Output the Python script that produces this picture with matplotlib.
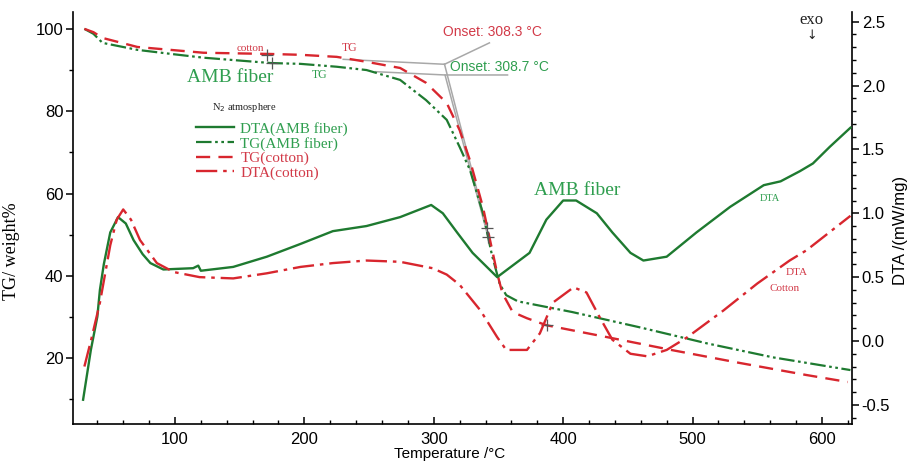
import matplotlib
matplotlib.use('Agg')
import matplotlib.pyplot as plt
from matplotlib.ticker import MultipleLocator, FormatStrFormatter

# ---------------- data ----------------
tg_amb_T = [30, 37, 44, 71, 100, 122, 174, 197, 225, 248, 274, 294, 310, 320, 328,
            338, 345, 351, 356, 365, 407, 459, 511, 562, 622]
tg_amb_v = [100, 98.8, 96.6, 94.9, 93.8, 93.0, 91.7, 91.5, 90.8, 90.0, 87.6, 82.7,
            77.9, 71.3, 65.7, 55.2, 45.0, 38.0, 35.3, 33.8, 31.2, 27.5, 23.6, 20.2, 17.1]

tg_cot_T = [30, 37, 44, 71, 122, 174, 197, 225, 248, 274, 294, 310, 320, 328, 338,
            349, 353, 361, 372, 387, 434, 485, 537, 588, 620]
tg_cot_v = [100, 99.2, 97.8, 95.6, 94.2, 93.9, 93.7, 93.2, 92.0, 90.5, 86.9, 82.0,
            75.4, 68.0, 56.7, 40.6, 35.8, 31.2, 29.7, 28.0, 25.1, 21.9, 18.8, 15.9, 14.2]

dta_amb_T = [29, 35, 40, 42, 45, 50, 56, 62, 68, 75, 81, 91, 114, 118, 120, 145, 171,
             197, 222, 248, 274, 298, 307, 318, 330, 343, 349, 374, 387, 400, 410, 426,
             438, 452, 462, 480, 503, 529, 555, 568, 583, 593, 606, 622]
dta_amb_d = [-0.46, -0.07, 0.19, 0.40, 0.60, 0.85, 0.97, 0.92, 0.79, 0.68, 0.61, 0.56,
             0.57, 0.59, 0.55, 0.58, 0.66, 0.76, 0.86, 0.90, 0.97, 1.065, 1.0, 0.85,
             0.69, 0.56, 0.50, 0.69, 0.95, 1.10, 1.10, 1.0, 0.85, 0.69, 0.63, 0.66,
             0.85, 1.05, 1.22, 1.25, 1.33, 1.39, 1.52, 1.67]

dta_cot_T = [30, 35, 42, 50, 55, 60, 66, 73, 86, 99, 119, 145, 171, 197, 222, 248, 274,
             299, 310, 320, 336, 349, 356, 372, 382, 392, 408, 418, 428, 438, 452, 465,
             480, 496, 524, 550, 575, 588, 622]
dta_cot_d = [-0.20, 0.0, 0.30, 0.75, 0.95, 1.03, 0.95, 0.79, 0.61, 0.54, 0.50, 0.49,
             0.53, 0.58, 0.61, 0.63, 0.62, 0.57, 0.52, 0.44, 0.24, 0.03, -0.07, -0.07,
             0.06, 0.30, 0.42, 0.38, 0.19, 0.01, -0.10, -0.12, -0.07, 0.03, 0.24, 0.45,
             0.63, 0.71, 0.98]

# onset construction lines (temperature, weight %)
onset_red_base_T = [230, 308.3]
onset_red_base_v = [92.6, 91.4]
onset_red_lead_T = [308.3, 343]
onset_red_lead_v = [91.4, 96.6]
onset_red_steep_T = [308.3, 341]
onset_red_steep_v = [91.4, 51.6]
onset_grn_base_T = [255, 308.7, 357]
onset_grn_base_v = [89.6, 88.8, 88.8]
onset_grn_steep_T = [308.7, 342]
onset_grn_steep_v = [88.8, 49.4]
cross_T = [171, 175, 387.5, 341, 342]
cross_v = [93.6, 91.7, 28.0, 51.6, 49.4]

legend_labels = ['DTA(AMB fiber)', 'TG(AMB fiber)', 'TG(cotton)', 'DTA(cotton)']

x_lim = (21.2, 623.2)
yl_lim = (4.0, 104.1)
yr_lim = (-0.65, 2.576)

GREEN = '#1e7a30'
RED = '#d8262e'
GREEN_T = '#2f9e4f'
RED_T = '#d23a48'
GREY = '#a8a8a8'
SERIF = ['Liberation Serif', 'DejaVu Serif']
SANS = ['Liberation Sans', 'DejaVu Sans']

fig = plt.figure(figsize=(9.1, 4.61), dpi=100)
ax = fig.add_axes([73 / 910, 1 - 424 / 461, 779 / 910, 412 / 461])
ax2 = ax.twinx()

ls_dadot = (0, (7, 1.6, 1.2, 1.6, 1.2, 1.6))
ls_dash = (0, (6, 3.5))
ls_dashdot = (0, (9, 2.5, 1.5, 2.5))

# onset lines
for T, v in [(onset_red_base_T, onset_red_base_v), (onset_red_lead_T, onset_red_lead_v),
             (onset_red_steep_T, onset_red_steep_v), (onset_grn_base_T, onset_grn_base_v),
             (onset_grn_steep_T, onset_grn_steep_v)]:
    ax.plot(T, v, color=GREY, lw=1.1, zorder=1)

l_tga, = ax.plot(tg_amb_T, tg_amb_v, color=GREEN, lw=1.6, ls=ls_dadot, zorder=3)
l_tgc, = ax.plot(tg_cot_T, tg_cot_v, color=RED, lw=1.7, ls=ls_dash, zorder=3)
l_dta, = ax2.plot(dta_amb_T, dta_amb_d, color=GREEN, lw=1.7, ls='-', zorder=3)
l_dtc, = ax2.plot(dta_cot_T, dta_cot_d, color=RED, lw=1.7, ls=ls_dashdot, zorder=3)
ax.plot(cross_T, cross_v, ls='none', marker='+', ms=8, mew=0.9, color='#555555', zorder=4)

ax.set_xlim(*x_lim)
ax.set_ylim(*yl_lim)
ax2.set_ylim(*yr_lim)

for a in (ax, ax2):
    a.spines['top'].set_visible(False)
    for s in a.spines.values():
        s.set_linewidth(1.2)
ax.spines['right'].set_visible(False)
ax2.spines['left'].set_visible(False)
ax2.spines['bottom'].set_visible(False)

ax.xaxis.set_major_locator(MultipleLocator(100))
ax.xaxis.set_minor_locator(MultipleLocator(20))
ax.yaxis.set_major_locator(MultipleLocator(20))
ax.yaxis.set_minor_locator(MultipleLocator(10))
ax2.yaxis.set_major_locator(MultipleLocator(0.5))
ax2.yaxis.set_minor_locator(MultipleLocator(0.1))
ax2.yaxis.set_major_formatter(FormatStrFormatter('%.1f'))

ax.tick_params(axis='x', which='major', direction='in', length=5, width=1.1, pad=6)
ax.tick_params(axis='x', which='minor', direction='in', length=3, width=1.0)
ax.tick_params(axis='y', which='major', direction='out', length=5, width=1.1, pad=2)
ax.tick_params(axis='y', which='minor', direction='out', length=3, width=1.0)
ax2.tick_params(axis='y', which='major', direction='out', length=5, width=1.1, pad=2)
ax2.tick_params(axis='y', which='minor', direction='out', length=3, width=1.0)
for lab in ax.get_xticklabels() + ax.get_yticklabels() + ax2.get_yticklabels():
    lab.set_fontfamily(SANS)
    lab.set_fontsize(12)

ax.set_xlabel('Temperature /°C', family=SANS, fontsize=11)
ax.xaxis.set_label_coords(0.484, -0.056)
ax.set_ylabel('TG/ weight%', family=SERIF, fontsize=13)
ax.yaxis.set_label_coords(-0.068, 0.42)
ax2.set_ylabel('DTA /(mW/mg)', family=SANS, fontsize=12)
ax2.yaxis.set_label_coords(1.053, 0.47)

# annotations
ax.text(158, 95.3, 'cotton', color=RED_T, family=SERIF, fontsize=8, ha='center', va='center')
ax.text(235, 95.3, 'TG', color=RED_T, family=SERIF, fontsize=8.5, ha='center', va='center')
ax.text(142.5, 88.3, 'AMB fiber', color=GREEN_T, family=SERIF, fontsize=14, ha='center', va='center')
ax.text(212, 88.8, 'TG', color=GREEN_T, family=SERIF, fontsize=8.5, ha='center', va='center')
ax.text(307, 99.2, 'Onset: 308.3 °C', color=RED_T, family=SANS, fontsize=10, ha='left', va='center')
ax.text(312.5, 90.8, 'Onset: 308.7 °C', color=GREEN_T, family=SANS, fontsize=10, ha='left', va='center')
ax.text(410.5, 60.8, 'AMB fiber', color=GREEN_T, family=SERIF, fontsize=14, ha='center', va='center')
ax.text(560, 58.9, 'DTA', color=GREEN_T, family=SERIF, fontsize=7.5, ha='center', va='center')
ax.text(580.6, 40.9, 'DTA', color=RED_T, family=SERIF, fontsize=8, ha='center', va='center')
ax.text(571, 37.0, 'Cotton', color=RED_T, family=SERIF, fontsize=8, ha='center', va='center')
ax.text(592, 102.2, 'exo', color='#222222', family=SERIF, fontsize=12, ha='center', va='center')
ax.text(592, 98.3, '↓', color='#222222', family=['DejaVu Sans'], fontsize=9, ha='center', va='center')
ax.text(129, 80.8, 'N$_2$ atmosphere', color='#222222', family=SERIF, fontsize=7.5, ha='left', va='center')

leg = ax.legend([l_dta, l_tga, l_tgc, l_dtc], legend_labels, loc='upper left',
                bbox_to_anchor=(0.158, 0.733), frameon=False, borderpad=0, borderaxespad=0,
                handlelength=2.5, handletextpad=0.4, labelspacing=0.05,
                prop={'family': SERIF, 'size': 11})
for txt, c in zip(leg.get_texts(), [GREEN_T, GREEN_T, RED_T, RED_T]):
    txt.set_color(c)

fig.savefig('out.png', dpi=100)
